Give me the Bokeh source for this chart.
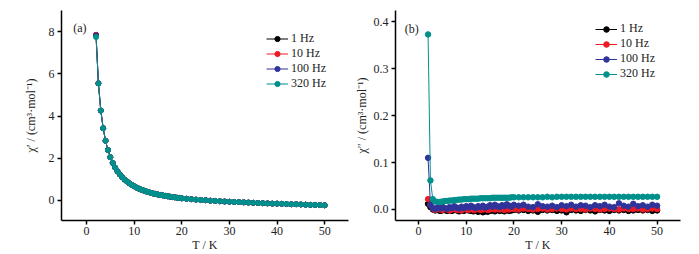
from bokeh.plotting import figure
from bokeh.layouts import row
from bokeh.models import Range1d, FixedTicker, PrintfTickFormatter, Label
from bokeh.embed import file_html
from bokeh.resources import INLINE

# ---------------- data ----------------
T = [2, 2.5, 3, 3.5, 4, 4.5, 5, 5.5, 6, 6.5,
     7, 7.5, 8, 8.5, 9, 9.5, 10, 10.5, 11, 11.5,
     12, 12.5, 13, 13.5, 14, 14.5, 15, 15.5, 16, 16.5,
     17, 17.5, 18, 18.5, 19, 19.5, 20,
     21, 22, 23, 24, 25, 26, 27, 28, 29, 30,
     31, 32, 33, 34, 35, 36, 37, 38, 39, 40,
     41, 42, 43, 44, 45, 46, 47, 48, 49, 50]

freq_labels = ["1 Hz", "10 Hz", "100 Hz", "320 Hz"]
colors = ["#000000", "#ed1c24", "#30349a", "#00908c"]

# chi' (in-phase)
chi1_1Hz = [7.85, 5.55, 4.26, 3.42, 2.83, 2.39, 2.05, 1.78, 1.56, 1.38,
            1.23, 1.10, 0.99, 0.90, 0.81, 0.74, 0.67, 0.61, 0.56, 0.51,
            0.47, 0.43, 0.40, 0.36, 0.33, 0.31, 0.28, 0.26, 0.24, 0.22,
            0.20, 0.18, 0.16, 0.15, 0.13, 0.12, 0.10,
            0.08, 0.06, 0.04, 0.02, 0.01, -0.01, -0.02, -0.04, -0.05, -0.06,
            -0.07, -0.08, -0.09, -0.10, -0.11, -0.12, -0.13, -0.14, -0.15, -0.15,
            -0.16, -0.17, -0.18, -0.18, -0.19, -0.20, -0.21, -0.21, -0.22, -0.23]
chi1_10Hz = [7.84] + chi1_1Hz[1:]
chi1_100Hz = [7.81] + chi1_1Hz[1:]
chi1_320Hz = [7.74, 5.54] + chi1_1Hz[2:]

# chi'' (out-of-phase)
chi2_1Hz = [0.012, 0.005, 0.000, -0.002, -0.001, -0.003, -0.002, -0.001, -0.003, -0.002,
            -0.003, -0.001, -0.002, -0.004, -0.002, -0.003, -0.001, -0.002, -0.003, -0.004,
            -0.002, -0.005, -0.003, -0.006, -0.004, -0.005, -0.003, -0.002, -0.004, -0.001,
            -0.003, -0.002, -0.004, -0.001, -0.003, -0.002, -0.001,
            -0.002, -0.001, -0.003, -0.002, -0.005, -0.001, -0.002, -0.001, -0.003, -0.002,
            -0.006, -0.001, -0.002, -0.003, -0.001, -0.002, -0.004, -0.001, -0.002, -0.003,
            -0.001, -0.002, -0.001, -0.003, -0.002, -0.001, -0.002, -0.001, -0.003, -0.002]
chi2_10Hz = [0.022, 0.010, 0.002, -0.001, 0.001, 0.000, -0.001, 0.001, 0.000, -0.002,
             0.000, 0.001, -0.001, 0.000, -0.002, 0.001, 0.000, -0.001, 0.001, -0.001,
             0.000, 0.001, -0.001, 0.000, 0.001, -0.001, 0.000, 0.001, 0.000, 0.002,
             0.000, 0.001, -0.001, 0.001, 0.000, 0.002, 0.001,
             0.000, 0.002, 0.001, 0.000, 0.001, 0.002, 0.000, 0.001, 0.002, 0.001,
             0.000, 0.002, 0.001, 0.001, 0.000, 0.002, 0.001, 0.000, 0.001, 0.002,
             0.001, 0.000, 0.002, 0.001, 0.001, 0.002, 0.000, 0.001, 0.002, 0.001]
chi2_100Hz = [0.110, 0.010, 0.003, 0.001, 0.004, 0.002, 0.006, 0.003, 0.001, 0.005,
              0.003, 0.007, 0.004, 0.002, 0.006, 0.003, 0.007, 0.004, 0.008, 0.005,
              0.003, 0.007, 0.005, 0.008, 0.004, 0.006, 0.009, 0.006, 0.010, 0.007,
              0.005, 0.009, 0.007, 0.011, 0.008, 0.006, 0.010,
              0.008, 0.010, 0.006, 0.005, 0.011, 0.007, 0.006, 0.008, 0.005, 0.009,
              0.007, 0.010, 0.006, 0.009, 0.008, 0.005, 0.009, 0.007, 0.010, 0.006,
              0.005, 0.013, 0.008, 0.006, 0.012, 0.007, 0.009, 0.006, 0.010, 0.008]
chi2_320Hz = [0.373, 0.062, 0.022, 0.017, 0.016, 0.016, 0.017, 0.018, 0.018, 0.019,
              0.019, 0.020, 0.020, 0.021, 0.021, 0.022, 0.022, 0.022, 0.023, 0.023,
              0.023, 0.023, 0.024, 0.024, 0.024, 0.024, 0.024, 0.025, 0.025, 0.025,
              0.025, 0.025, 0.025, 0.025, 0.025, 0.026, 0.026,
              0.026, 0.026, 0.026, 0.026, 0.026, 0.026, 0.027, 0.026, 0.027, 0.027,
              0.027, 0.027, 0.027, 0.027, 0.027, 0.027, 0.027, 0.027, 0.027, 0.027,
              0.027, 0.027, 0.027, 0.027, 0.027, 0.027, 0.027, 0.027, 0.027, 0.027]

x_ticks = [0, 10, 20, 30, 40, 50]
y1_ticks = [0, 2, 4, 6, 8]
y2_ticks = [0.0, 0.1, 0.2, 0.3, 0.4]

FONT = "Liberation Serif"


def style(p):
    p.background_fill_color = "white"
    p.border_fill_color = "white"
    p.outline_line_color = None
    p.xgrid.visible = False
    p.ygrid.visible = False
    for ax in (p.xaxis[0], p.yaxis[0]):
        ax.axis_line_width = 1.5
        ax.axis_line_color = "black"
        ax.major_tick_line_width = 1.5
        ax.major_tick_out = 4
        ax.major_tick_in = 0
        ax.minor_tick_line_color = None
        ax.major_label_text_font = FONT
        ax.major_label_text_font_size = "12px"
        ax.major_label_text_color = "#222222"
        ax.axis_label_text_font = FONT
        ax.axis_label_text_font_size = "12px"
        ax.axis_label_text_font_style = "normal"
        ax.axis_label_text_color = "#222222"
        ax.major_label_standoff = 3
    p.xaxis[0].ticker = FixedTicker(ticks=x_ticks)
    p.xaxis[0].major_label_standoff = 2
    p.xaxis[0].axis_label_standoff = 0


def legend_style(p, loc, lh):
    lg = p.legend[0]
    lg.location = loc
    lg.background_fill_alpha = 0
    lg.border_line_alpha = 0
    lg.padding = 0
    lg.margin = 0
    lg.spacing = 0
    lg.label_height = lh
    lg.glyph_height = lh
    lg.glyph_width = 22
    lg.label_standoff = 3
    lg.label_text_font = FONT
    lg.label_text_font_size = "12px"
    lg.label_text_line_height = 1.0
    lg.label_text_color = "#222222"


# ---------------- panel (a) ----------------
p1 = figure(width=350, height=254, output_backend="svg", toolbar_location=None,
            x_range=Range1d(-5.25, 55), y_range=Range1d(-0.95, 9.0),
            min_border_left=61, min_border_right=2, min_border_top=10, min_border_bottom=20)
style(p1)
p1.yaxis[0].ticker = FixedTicker(ticks=y1_ticks)
p1.xaxis[0].axis_label = "T / K"
p1.yaxis[0].axis_label = "χ′ / (cm³·mol⁻¹)"
p1.yaxis[0].axis_label_standoff = 8

for lab, col, ys in zip(freq_labels, colors, [chi1_1Hz, chi1_10Hz, chi1_100Hz, chi1_320Hz]):
    p1.line(T, ys, line_color=col, line_width=1, legend_label=lab)
    p1.scatter(T, ys, size=5, fill_color=col, line_color=col, legend_label=lab)
legend_style(p1, (205, 129), 13)
p1.add_layout(Label(x=-2.8, y=8.15, text="(a)", text_font=FONT, text_font_size="12px",
                    text_baseline="middle", text_align="left", text_color="#222222"))

# ---------------- panel (b) ----------------
p2 = figure(width=349, height=254, output_backend="svg", toolbar_location=None,
            x_range=Range1d(-4.82, 54.9), y_range=Range1d(-0.0235, 0.424),
            min_border_left=45, min_border_right=19, min_border_top=10, min_border_bottom=20)
style(p2)
p2.yaxis[0].ticker = FixedTicker(ticks=y2_ticks)
p2.yaxis[0].formatter = PrintfTickFormatter(format="%.1f")
p2.xaxis[0].axis_label = "T / K"
p2.yaxis[0].axis_label = "χ″ / (cm³·mol⁻¹)"
p2.yaxis[0].axis_label_standoff = 2

for lab, col, ys in zip(freq_labels, colors, [chi2_1Hz, chi2_10Hz, chi2_100Hz, chi2_320Hz]):
    p2.line(T, ys, line_color=col, line_width=1, legend_label=lab)
    p2.scatter(T, ys, size=5.5, fill_color=col, line_color=col, legend_label=lab)
legend_style(p2, (200, 139), 14)
p2.add_layout(Label(x=-2.9, y=0.384, text="(b)", text_font=FONT, text_font_size="12px",
                    text_baseline="middle", text_align="left", text_color="#222222"))

layout = row(p1, p2, spacing=0)
open("out.html", "w").write(file_html(layout, INLINE))
